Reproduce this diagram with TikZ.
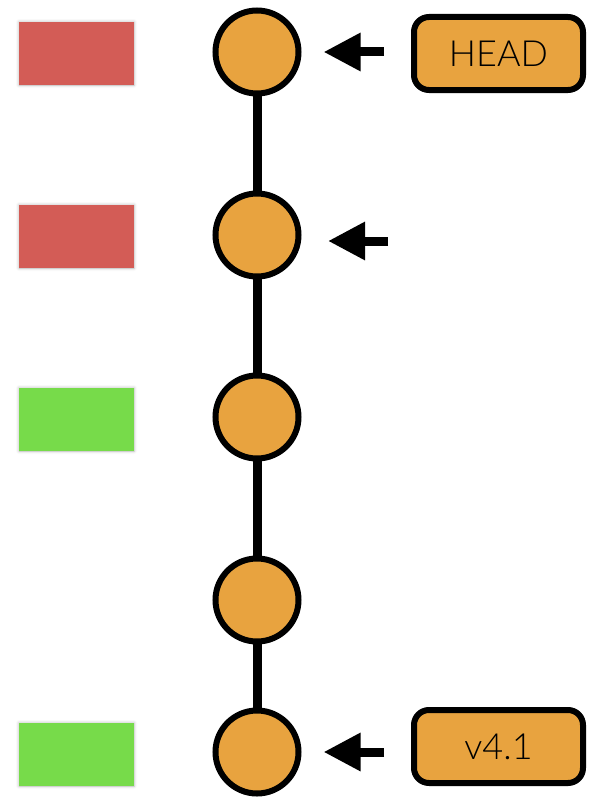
\documentclass[tikz,border=0pt]{standalone}
\usepackage{fontspec}
\setmainfont{Lato}[UprightFont={* Light}]
\usetikzlibrary{arrows.meta,shadows.blur}
\definecolor{cred}{HTML}{D35C56}
\definecolor{cgreen}{HTML}{77DB4A}
\definecolor{corange}{HTML}{E8A33F}
\tikzset{
  commit/.style={circle,draw=black,line width=6pt,fill=corange,minimum size=83pt,inner sep=0pt},
  status/.style={rectangle,minimum width=115pt,minimum height=63pt,inner sep=0pt,
    blur shadow={shadow xshift=0pt,shadow yshift=0pt,shadow blur radius=3pt,shadow opacity=30}},
  redbox/.style={status,fill=cred},
  greenbox/.style={status,fill=cgreen},
  label/.style={rectangle,rounded corners=15pt,draw=black,line width=6pt,fill=corange,
    minimum width=169pt,minimum height=73pt,inner sep=0pt,font=\fontsize{36pt}{42pt}\selectfont,
    blur shadow={shadow xshift=0pt,shadow yshift=0pt,shadow blur radius=3pt,shadow opacity=30}},
  chain/.style={line width=9pt,draw=black},
  ptr/.style={line width=9pt,-{Triangle[length=37pt,width=36pt]}},
}
\begin{document}
\begin{tikzpicture}[x=1pt,y=-1pt]
\useasboundingbox (0,0) rectangle (605,800);
\node[redbox] (r1) at (76.5,53.5) {};
\node[redbox] (r2) at (76.5,236.5) {};
\node[greenbox] (g3) at (76.5,419.5) {};
\node[greenbox] (g5) at (76.5,754.5) {};
\draw[chain] (257,52) -- (257,752);
\node[commit] (c1) at (257,52) {};
\node[commit] (c2) at (257,235) {};
\node[commit] (c3) at (257,417) {};
\node[commit] (c4) at (257,600) {};
\node[commit] (c5) at (257,752) {};
\node[label] (head) at (498.5,53.5) {HEAD};
\node[label] (tag) at (498.5,746.5) {v4.1};
\draw[ptr] ([xshift=-27pt]head.west |- c1) -- ([xshift=22pt]c1.east);
\coordinate (a2s) at (388,241);
\coordinate (a2e) at (328,241);
\draw[ptr] (a2s) -- (a2e);
\draw[ptr] ([xshift=-27pt]tag.west |- c5) -- ([xshift=22pt]c5.east |- c5);
\end{tikzpicture}
\end{document}
